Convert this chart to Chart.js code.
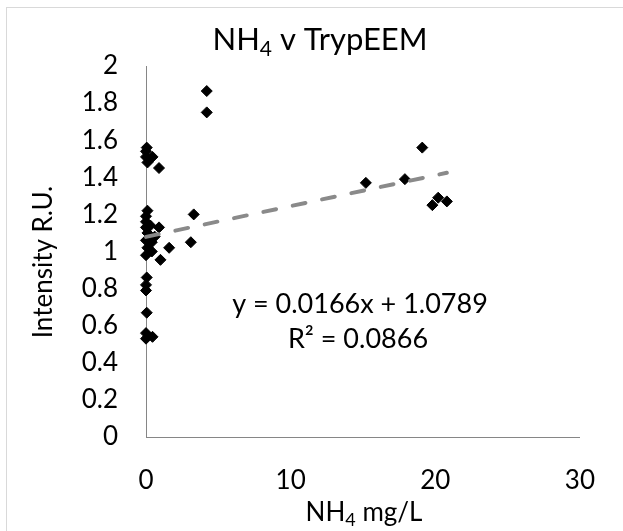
<!DOCTYPE html>
<html>
<head>
<meta charset="utf-8">
<script src="https://cdn.jsdelivr.net/npm/chart.js@4"></script>
<style>
  html, body { margin: 0; padding: 0; background: #fff; }
  #wrap { width: 623px; height: 531px; position: relative; }
</style>
</head>
<body>
<div id="wrap"><canvas id="chart" width="623" height="531"></canvas></div>
<script>
'use strict';

// NH4 (mg/L) against TrypEEM intensity
var nh4 = [
    0.05, 0.0, 0.0, 0.45, 0.1, 0.9,
    4.2, 4.2,
    0.1, 0.0, 0.0, 0.0, 0.3, 0.9, 3.3, 0.1, 0.6, 0.0, 0.4, 3.1, 0.1, 1.6, 0.4, 0.0, 1.0,
    0.05, 0.0, 0.0, 0.05, 0.0, 0.45, 0.0,
    15.2, 17.9, 19.1, 19.8, 20.2, 20.8
];
var intensity = [
    1.56, 1.54, 1.51, 1.51, 1.48, 1.45,
    1.865, 1.75,
    1.22, 1.19, 1.16, 1.13, 1.14, 1.13, 1.20, 1.10, 1.08, 1.06, 1.05, 1.05, 1.02, 1.02, 1.00, 0.98, 0.955,
    0.86, 0.82, 0.79, 0.67, 0.56, 0.54, 0.53,
    1.37, 1.39, 1.56, 1.25, 1.29, 1.27
];

var trendSlope     = 0.0166;
var trendIntercept = 1.0789;
var trendLabels    = ['y = 0.0166x + 1.0789', 'R\u00b2 = 0.0866'];

var xTickValues = [0, 10, 20, 30];
var xTickLabels = ['0', '10', '20', '30'];
var yTickValues = [0, 0.2, 0.4, 0.6, 0.8, 1, 1.2, 1.4, 1.6, 1.8, 2];
var yTickLabels = ['0', '0.2', '0.4', '0.6', '0.8', '1', '1.2', '1.4', '1.6', '1.8', '2'];

var FONT = 'Lato, "Open Sans", sans-serif';

var points = nh4.map(function (x, i) { return { x: x, y: intensity[i] }; });
var xMin = Math.min.apply(null, nh4);
var xMax = Math.max.apply(null, nh4);
var trendPoints = [
    { x: xMin, y: trendSlope * xMin + trendIntercept },
    { x: xMax, y: trendSlope * xMax + trendIntercept }
];

function tickLabel(values, labels) {
    return function (value) {
        for (var i = 0; i < values.length; i++) {
            if (Math.abs(values[i] - value) < 1e-6) return labels[i];
        }
        return '';
    };
}

// draws "main" + subscript + "rest" centered on cx
function drawSubText(ctx, parts, cx, baseline, size, subSize, subDrop) {
    ctx.font = size + 'px ' + FONT;
    var w0 = ctx.measureText(parts[0]).width;
    var w2 = ctx.measureText(parts[2]).width;
    ctx.font = subSize + 'px ' + FONT;
    var w1 = ctx.measureText(parts[1]).width;
    var x = cx - (w0 + w1 + w2) / 2;
    ctx.textAlign = 'left';
    ctx.textBaseline = 'alphabetic';
    ctx.font = size + 'px ' + FONT;
    ctx.fillText(parts[0], x, baseline);
    ctx.font = subSize + 'px ' + FONT;
    ctx.fillText(parts[1], x + w0, baseline + subDrop);
    ctx.font = size + 'px ' + FONT;
    ctx.fillText(parts[2], x + w0 + w1, baseline);
}

var textPlugin = {
    id: 'texts',
    beforeDraw: function (chart) {
        var ctx = chart.ctx;
        ctx.save();
        ctx.fillStyle = '#fff';
        ctx.fillRect(0, 0, chart.width, chart.height);
        ctx.strokeStyle = '#d9d9d9';
        ctx.lineWidth = 1;
        ctx.strokeRect(6.5, 7.5, chart.width + 10, chart.height + 10);
        ctx.restore();
    },
    afterDraw: function (chart) {
        var ctx = chart.ctx;
        ctx.save();
        ctx.fillStyle = '#000';
        drawSubText(ctx, ['NH', '4', ' v TrypEEM'], 320, 50, 31, 21, 6);
        drawSubText(ctx, ['NH', '4', ' mg/L'], 364, 521, 26, 18, 5);

        ctx.font = '26px ' + FONT;
        ctx.textAlign = 'center';
        ctx.textBaseline = 'alphabetic';
        ctx.translate(52, 262);
        ctx.rotate(-Math.PI / 2);
        ctx.fillText('Intensity R.U.', 0, 0);
        ctx.restore();

        ctx.save();
        ctx.fillStyle = '#000';
        ctx.font = '27px ' + FONT;
        ctx.textAlign = 'center';
        ctx.textBaseline = 'alphabetic';
        ctx.fillText(trendLabels[0], 360, 313);
        ctx.fillText(trendLabels[1], 358, 348);
        ctx.restore();
    }
};

var ctx = document.getElementById('chart');

var myChart = new Chart(ctx, {
    type: 'scatter',
    data: {
        datasets: [
            {
                label: 'TrypEEM',
                data: points,
                pointStyle: 'rectRot',
                pointRadius: 5.5,
                pointBackgroundColor: '#000',
                pointBorderColor: '#000',
                pointBorderWidth: 1,
                clip: false,
                order: 2
            },
            {
                label: 'Linear (TrypEEM)',
                type: 'line',
                data: trendPoints,
                borderColor: '#8a8a8a',
                borderWidth: 4,
                borderDash: [13, 17],
                borderCapStyle: 'round',
                pointRadius: 0,
                fill: false,
                clip: false,
                order: 1
            }
        ]
    },
    options: {
        responsive: false,
        animation: false,
        layout: {
            padding: { left: 0, top: 66, right: 39, bottom: 0 }
        },
        plugins: {
            legend: { display: false },
            title: { display: false },
            tooltip: { enabled: false }
        },
        scales: {
            x: {
                type: 'linear',
                min: 0,
                max: 30,
                afterFit: function (scale) { scale.height = 94; },
                afterBuildTicks: function (scale) {
                    scale.ticks = xTickValues.map(function (v) { return { value: v }; });
                },
                grid: { display: false, drawTicks: false },
                border: { display: true, color: '#868686', width: 1 },
                ticks: {
                    padding: 28,
                    color: '#000',
                    font: { family: FONT, size: 26 },
                    maxRotation: 0,
                    callback: tickLabel(xTickValues, xTickLabels)
                }
            },
            y: {
                type: 'linear',
                min: 0,
                max: 2,
                afterFit: function (scale) { scale.width = 146; },
                afterBuildTicks: function (scale) {
                    scale.ticks = yTickValues.map(function (v) { return { value: v }; });
                },
                grid: { display: false, drawTicks: false },
                border: { display: true, color: '#868686', width: 1 },
                ticks: {
                    padding: 28,
                    color: '#000',
                    font: { family: FONT, size: 26 },
                    callback: tickLabel(yTickValues, yTickLabels)
                }
            }
        }
    },
    plugins: [textPlugin]
});
</script>
</body>
</html>
